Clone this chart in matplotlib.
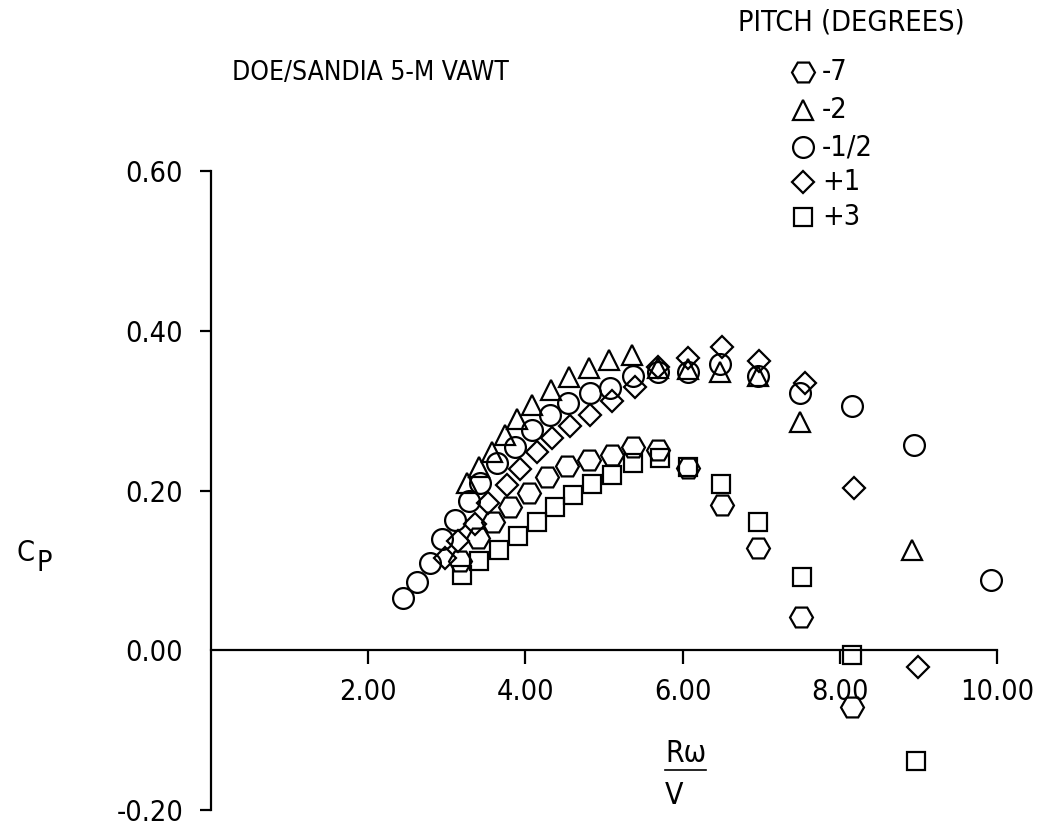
import matplotlib.pyplot as plt
from matplotlib import font_manager as fm
from matplotlib.lines import Line2D

# the original lettering is a narrow sans: use a narrow/condensed face if one is installed
faces = fm.fontManager.ttflist
font_name, font_stretch, scale = 'DejaVu Sans', 'normal', 0.78
if any(f.name == 'Liberation Sans Narrow' for f in faces):
    font_name, font_stretch, scale = 'Liberation Sans Narrow', 'normal', 1.0
else:
    for name in ['DejaVu Sans', 'Noto Sans', 'Roboto', 'Open Sans', 'Liberation Sans']:
        if any(f.name == name and 'condensed' in str(f.stretch) for f in faces):
            font_name, font_stretch, scale = name, 'condensed', 0.9
            break
plt.rcParams['font.family'] = [font_name, 'DejaVu Sans']
plt.rcParams['font.stretch'] = font_stretch

W, H = 1039, 830

# pitch settings (degrees) and their symbols
pitch_labels = ['-7', '-2', '-1/2', '+1', '+3']
markers = ['H', '^', 'o', 'D', 's']
msizes = [16.5, 14.5, 15, 11.2, 13]

# R*omega/V and Cp
tsr_m7 = [3.17, 3.40, 3.59, 3.80, 4.05, 4.27, 4.53, 4.81, 5.10, 5.37, 5.69, 6.07, 6.50, 6.96, 7.50, 8.16]
cp_m7 = [0.112, 0.140, 0.160, 0.179, 0.197, 0.217, 0.231, 0.238, 0.244, 0.254, 0.251, 0.228, 0.182, 0.128, 0.042, -0.071]

tsr_m2 = [3.26, 3.41, 3.58, 3.74, 3.89, 4.08, 4.33, 4.55, 4.81, 5.06, 5.36, 5.69, 6.07, 6.48, 6.96, 7.49, 8.92]
cp_m2 = [0.210, 0.229, 0.248, 0.270, 0.290, 0.307, 0.326, 0.342, 0.354, 0.364, 0.370, 0.354, 0.352, 0.349, 0.344, 0.286, 0.125]

tsr_mhalf = [2.44, 2.62, 2.79, 2.94, 3.10, 3.28, 3.42, 3.64, 3.87, 4.08, 4.31, 4.54, 4.82, 5.08, 5.37, 5.69, 6.07, 6.48, 6.96, 7.49, 8.16, 8.95, 9.92]
cp_mhalf = [0.065, 0.085, 0.109, 0.139, 0.163, 0.187, 0.210, 0.234, 0.254, 0.276, 0.295, 0.310, 0.322, 0.329, 0.343, 0.349, 0.349, 0.358, 0.343, 0.322, 0.306, 0.257, 0.088]

tsr_p1 = [2.98, 3.14, 3.36, 3.52, 3.77, 3.93, 4.15, 4.34, 4.57, 4.82, 5.10, 5.39, 5.69, 6.07, 6.50, 6.97, 7.56, 8.18, 9.00]
cp_p1 = [0.115, 0.137, 0.158, 0.184, 0.207, 0.227, 0.248, 0.266, 0.281, 0.295, 0.312, 0.330, 0.355, 0.366, 0.380, 0.363, 0.335, 0.203, -0.021]

tsr_p3 = [3.19, 3.41, 3.66, 3.91, 4.15, 4.38, 4.61, 4.85, 5.10, 5.37, 5.71, 6.07, 6.49, 6.96, 7.52, 8.16, 8.97]
cp_p3 = [0.094, 0.112, 0.125, 0.143, 0.160, 0.179, 0.194, 0.208, 0.220, 0.234, 0.241, 0.229, 0.208, 0.160, 0.092, -0.006, -0.139]

series = [(tsr_m7, cp_m7), (tsr_m2, cp_m2), (tsr_mhalf, cp_mhalf), (tsr_p1, cp_p1), (tsr_p3, cp_p3)]

xticks = [2, 4, 6, 8, 10]
xticklabels = ['2.00', '4.00', '6.00', '8.00', '10.00']
yticks = [-0.2, 0.0, 0.2, 0.4, 0.6]
yticklabels = ['-0.20', '0.00', '0.20', '0.40', '0.60']

fs = 23 * scale


def fpos(x, y):
    # pixel position (from top left) -> figure fraction
    return x / W, 1 - y / H


fig = plt.figure(figsize=(W / 100, H / 100), dpi=100)
ax = fig.add_axes([211 / W, 20.5 / H, 786 / W, 638 / H])

for (xs, ys), m, ms in zip(series, markers, msizes):
    ax.plot(xs, ys, linestyle='none', marker=m, markersize=ms,
            markerfacecolor='none', markeredgecolor='black', markeredgewidth=1.6,
            clip_on=False)

ax.set_xlim(0, 10)
ax.set_ylim(-0.2, 0.6)

# axes: left spine full height, x axis drawn at Cp = 0
for s in ['top', 'right']:
    ax.spines[s].set_visible(False)
ax.spines['bottom'].set_position(('data', 0))
ax.spines['left'].set_linewidth(1.6)
ax.spines['bottom'].set_linewidth(1.6)

ax.set_xticks(xticks)
ax.set_xticklabels(xticklabels)
ax.set_yticks(yticks)
ax.set_yticklabels(yticklabels)
ax.tick_params(axis='x', direction='out', length=10, width=1.6, pad=10, labelsize=fs)
ax.tick_params(axis='y', direction='out', length=8, width=1.6, pad=12, labelsize=fs)
# no tick mark where the x axis meets the y axis
ax.yaxis.get_major_ticks()[1].tick1line.set_visible(False)

# titles and axis labels
fig.text(*fpos(370, 73), 'DOE/SANDIA 5-M VAWT', fontsize=21 * scale, ha='center', va='center')
fig.text(*fpos(738, 23), 'PITCH (DEGREES)', fontsize=fs, ha='left', va='center')

c_txt = fig.text(*fpos(16, 553), 'C', fontsize=fs, ha='left', va='center')
ax.annotate('P', xy=(1, 0.5), xycoords=c_txt, xytext=(1.5, -7), textcoords='offset points',
            fontsize=fs, ha='left', va='center', annotation_clip=False)

rw_txt = fig.text(*fpos(665, 754), 'R\u03c9', fontsize=24 * scale, ha='left', va='center')
fig.text(*fpos(665, 795), 'V', fontsize=24 * scale, ha='left', va='center')

# legend drawn by hand, symbol then pitch value
rows_y = [72, 110, 147, 182, 217]
for lab, m, ms, yy in zip(pitch_labels, markers, msizes, rows_y):
    fig.add_artist(Line2D([803 / W], [1 - yy / H], linestyle='none', marker=m, markersize=ms,
                          markerfacecolor='none', markeredgecolor='black', markeredgewidth=1.6))
    fig.text(*fpos(822, yy), lab, fontsize=fs, ha='left', va='center')

# underline the R-omega of the fraction
fig.canvas.draw()
bb = rw_txt.get_window_extent()
fig.add_artist(Line2D([bb.x0 / W, bb.x1 / W], [(bb.y0 - 2) / H, (bb.y0 - 2) / H],
                      color='black', linewidth=1.2))

fig.savefig('out.png', dpi=100)
